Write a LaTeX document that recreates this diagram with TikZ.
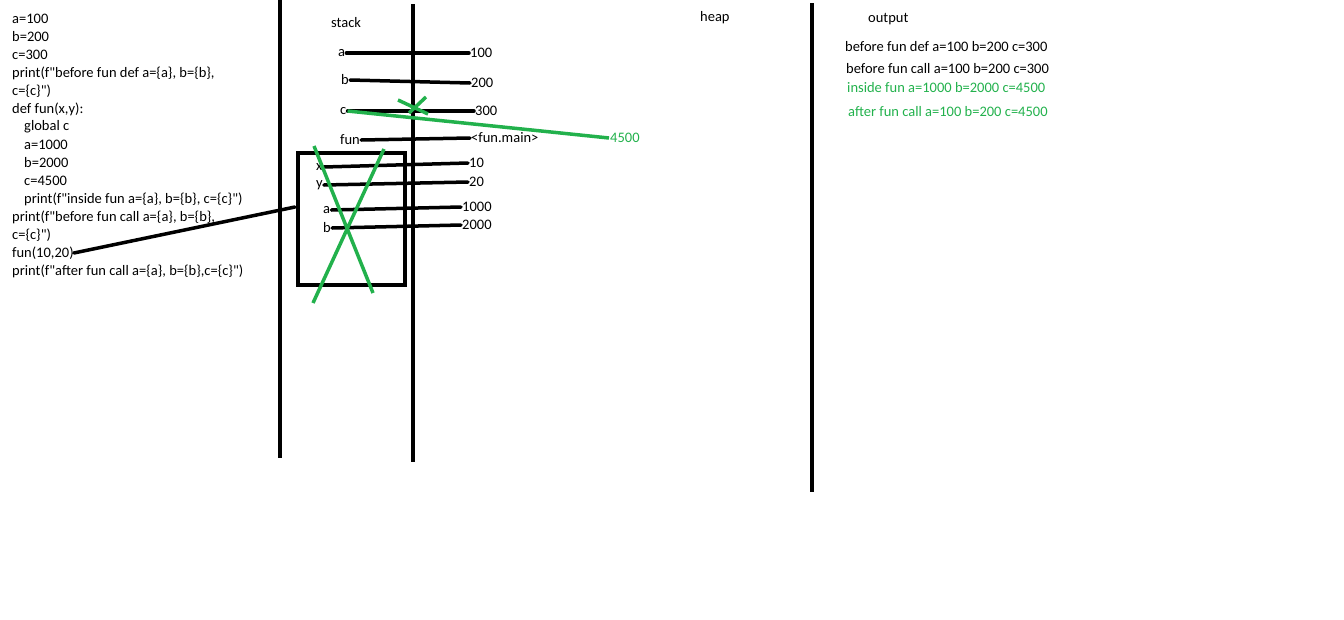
\documentclass[tikz,border=0pt]{standalone}
\usepackage{fontspec}
\setmainfont{Carlito}[Ligatures=TeXOff]
\usepackage{xcolor}
\definecolor{paintgreen}{RGB}{34,177,76}

\begin{document}
\begin{tikzpicture}[x=1pt,y=-1pt,font=\fontsize{14.5}{17}\selectfont,
  every node/.style={inner sep=1pt},
  bar/.style={line width=4pt},
  slot/.style={line width=3.5pt,line cap=round},
  cross/.style={paintgreen,line width=3.5pt}]
\useasboundingbox (0,0) rectangle (1344,619);
% code column
\foreach \x/\t [count=\i] in {12/a=100, 12/b=200, 12/c=300,
  12/{print(f"before fun def a=\{a\}, b=\{b\},}, 12/{c=\{c\}")},
  12/{def fun(x,y):}, 24/global c, 24/a=1000, 24/b=2000, 24/c=4500,
  24/{print(f"inside fun a=\{a\}, b=\{b\}, c=\{c\}")},
  12/{print(f"before fun call a=\{a\}, b=\{b\},}, 12/{c=\{c\}")},
  12/{fun(10,20)}, 12/{print(f"after fun call a=\{a\}, b=\{b\},c=\{c\}")}}
{ \node (code-\i) at (\x,{19+18*(\i-1)}) [anchor=west,inner sep=0pt] {\t};
}
% columns
\draw[bar] (280,0)--(280,458);
\draw[bar] (413,4)--(413,462);
\draw[bar] (812,3)--(812,492);
\node (stack) at (330,23) [anchor=west] {stack};
\node (heap) at (699,18) [anchor=west] {heap};
\node (output) at (867,19) [anchor=west] {output};
% stack slots
\foreach \n/\l/\lx/\ly/\v/\vx/\vy in {a/a/337/53/100/469/53, b/b/340/80/200/470/83,
  c/c/339/111/300/474/111, fun/fun/339/140/{<fun.main>}/470/138,
  x/x/315/167/10/468/163, y/y/315/185/20/468/182,
  a2/a/322/210/1000/461/207, b2/b/322/228/2000/461/225}
{ \node (lbl-\n) at (\lx,\ly) [anchor=west] {\l};
  \node (val-\n) at (\vx,\vy) [anchor=west] {\v};
  \draw[slot] (lbl-\n.east)--(val-\n.west);
}
\node (val-c2) at (609,138) [anchor=west,text=paintgreen] {4500};
\draw[paintgreen,line width=3.5pt] (lbl-c.east)--(val-c2.west);
\draw[cross] (398,100)--(428,114) (426,97)--(409,113);
% frame of fun
\draw[line width=3.5pt] (298,153) rectangle (405,285);
\coordinate (call) at (295,207);
\draw[slot] (code-14.east)--(call);
\draw[cross] (314,146)--(373,293) (384,149)--(313,303);
% output
\node (out-1) at (844,47) [anchor=west] {before fun def a=100 b=200 c=300};
\node (out-2) at (845,69) [anchor=west] {before fun call a=100 b=200 c=300};
\node (out-3) at (846,88) [anchor=west,text=paintgreen] {inside fun a=1000 b=2000 c=4500};
\node (out-4) at (847,112) [anchor=west,text=paintgreen] {after fun call a=100 b=200 c=4500};
\end{tikzpicture}
\end{document}
